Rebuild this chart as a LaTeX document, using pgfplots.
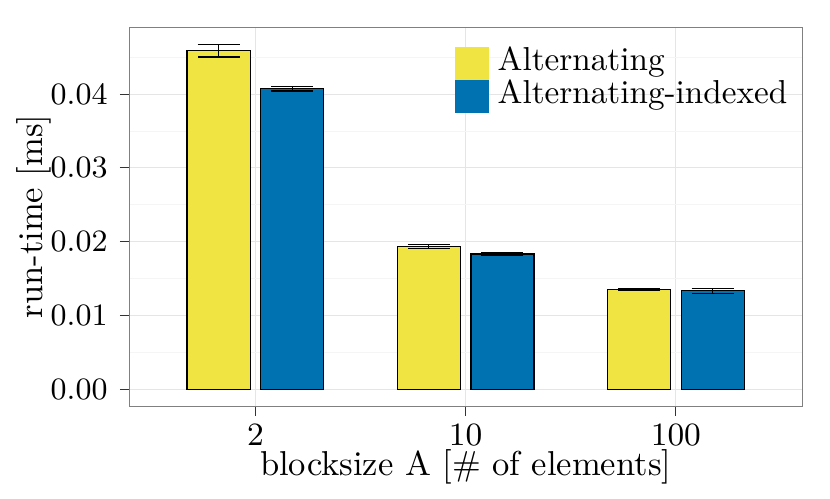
\documentclass[border=0pt]{standalone}
\usepackage{pgfplots}
\usepackage{pgfplotstable}
\pgfplotsset{compat=1.18}
\definecolor{cbyellow}{HTML}{F0E442}
\definecolor{cbblue}{HTML}{0072B2}
\pgfplotstableread{
x y e
1 0.04589 0.00086
2 0.01935 0.00030
3 0.01351 0.00012
}\alt
\pgfplotstableread{
x y e
1 0.04071 0.00029
2 0.01833 0.00018
3 0.01335 0.00034
}\altidx
\begin{document}
\begin{tikzpicture}[font=\fontsize{10}{12}\selectfont]
\useasboundingbox (-37.41pt,-26.62pt) rectangle (202.75pt,117.48pt);
\begin{axis}[
  at={(0pt,0pt)}, anchor=south west,
  width=194.65pt, height=109.66pt, scale only axis,
  xmin=0.4, xmax=3.6, ymin=-0.00226, ymax=0.04909,
  xtick={1,2,3}, xticklabels={2,10,100},
  ytick={0,0.01,0.02,0.03,0.04},
  minor ytick={0.005,0.015,0.025,0.035,0.045},
  scaled y ticks=false,
  ticklabel style={font=\fontsize{9.4}{11}\selectfont},
  yticklabel style={/pgf/number format/.cd, fixed, fixed zerofill, precision=2},
  xticklabel style={yshift=1.1pt},
  grid=both,
  major grid style={color=black!10, line width=0.29pt},
  minor grid style={color=black!4, line width=0.29pt},
  tick align=outside, major tick length=2.75pt, minor tick length=0pt,
  tick style={color=black!80, line width=0.29pt},
  xtick pos=left, ytick pos=left,
  axis line style={color=black!50, line width=0.29pt},
  xlabel={blocksize A [\# of elements]},
  ylabel={run-time [ms]},
  xlabel style={at={(axis description cs:0.5,-0.1821)}, anchor=base, inner sep=0pt},
  ylabel style={at={(axis description cs:-0.1283,0.5)}, anchor=base, rotate=0, inner sep=0pt},
  legend cell align=left,
  legend style={at={(rel axis cs:0.4827,0.948)}, anchor=north west, draw=none, fill=none,
    inner sep=0pt, row sep=0pt, column sep=2.6pt, font=\fontsize{9.6}{11}\selectfont,
    nodes={inner sep=0pt, text height=6.71pt, text depth=2.84pt}},
  legend image code/.code={\fill[#1,draw=none] (0pt,-4.77pt) rectangle (9.84pt,4.77pt);},
]
\addplot[ybar, bar width=0.3, bar shift=0, fill=cbyellow, draw=black, line width=0.35pt,
  error bars/.cd, y dir=both, y explicit,
  error bar style={line width=0.33pt, black},
  error mark options={rotate=90, mark size=6.08pt, line width=0.33pt, black}]
  table[x expr=\thisrow{x}-0.175, y=y, y error=e]{\alt};
\addlegendentry{Alternating}
\addplot[ybar, bar width=0.3, bar shift=0, fill=cbblue, draw=black, line width=0.35pt,
  error bars/.cd, y dir=both, y explicit,
  error bar style={line width=0.33pt, black},
  error mark options={rotate=90, mark size=6.08pt, line width=0.33pt, black}]
  table[x expr=\thisrow{x}+0.175, y=y, y error=e]{\altidx};
\addlegendentry{Alternating-indexed}
\end{axis}
\end{tikzpicture}
\end{document}
